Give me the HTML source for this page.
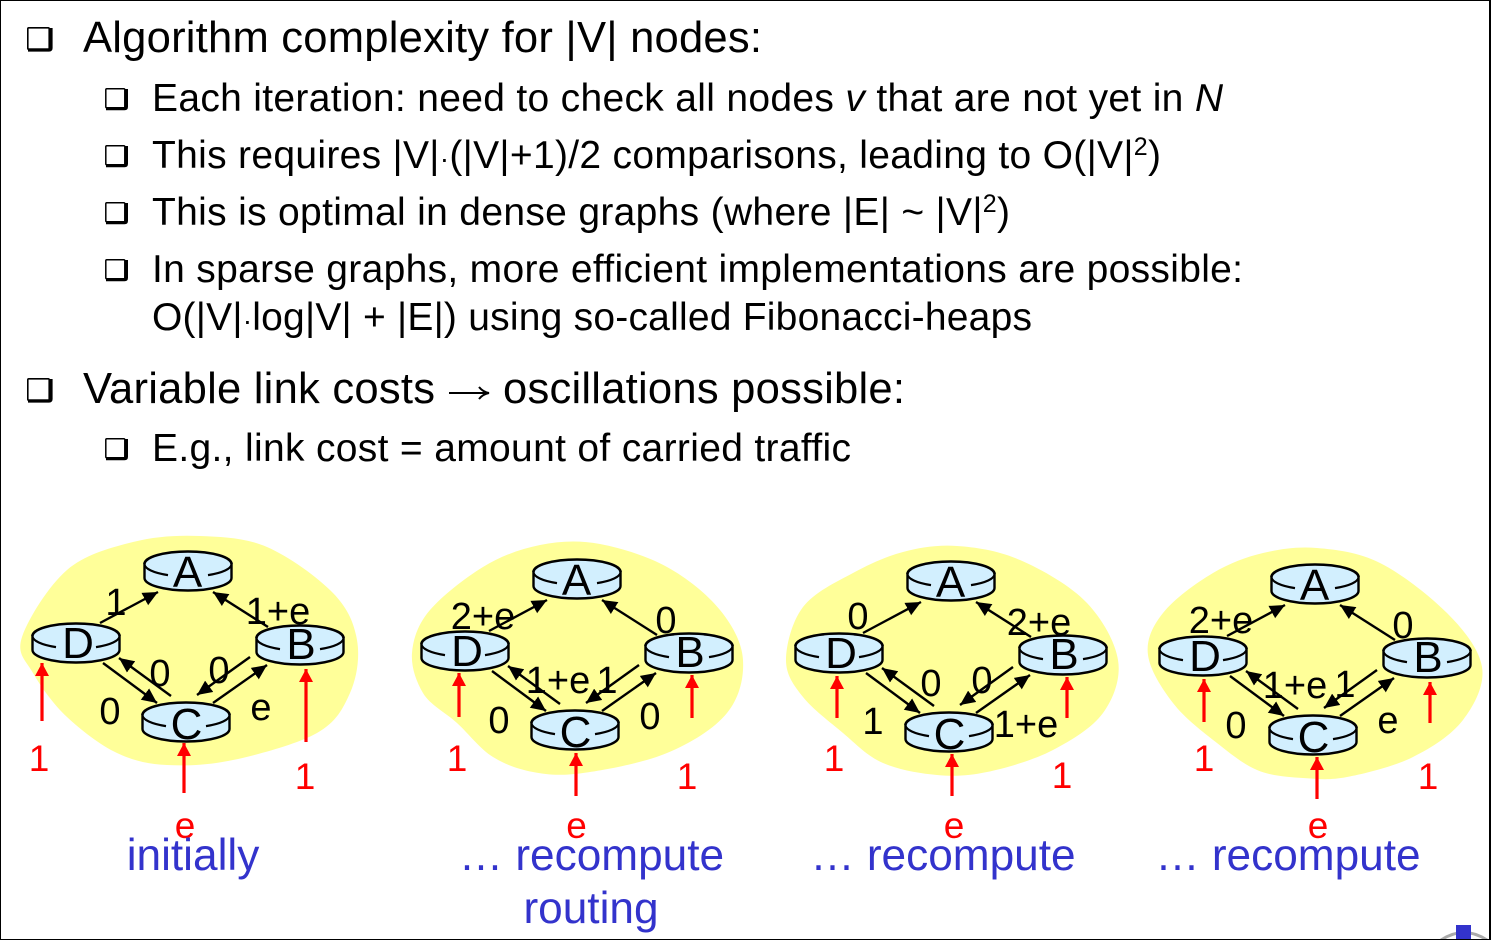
<!DOCTYPE html>
<html><head><meta charset="utf-8"><style>
html,body{margin:0;padding:0;background:#fff;width:1492px;height:941px;overflow:hidden}
svg{display:block;font-family:"Liberation Sans",Arial,sans-serif}
.h{font-size:43.6px;fill:#000}
.s{font-size:39px;fill:#000}
.n{font-size:44px;fill:#000;text-anchor:middle}
.l{font-size:38px;fill:#000;text-anchor:middle}
.r{font-size:37px;fill:#f00;text-anchor:middle}
.b{font-size:44.2px;fill:#3333cc;text-anchor:middle}
</style></head><body>
<svg width="1492" height="941" viewBox="0 0 1492 941" xmlns="http://www.w3.org/2000/svg">
<defs>
<marker id="k" markerUnits="userSpaceOnUse" markerWidth="18" markerHeight="16" refX="15" refY="7" orient="auto"><path d="M0 0L15 7L0 14Z" fill="#000"/></marker>
<marker id="rh" markerUnits="userSpaceOnUse" markerWidth="16" markerHeight="16" refX="13" refY="7" orient="auto"><path d="M0 0L13 7L0 14Z" fill="#f00"/></marker>
<g id="rt">
<path d="M-43.5 0V14A43.5 12.5 0 0 0 43.5 14V0Z" fill="#d2effe" stroke="#000" stroke-width="2.4"/>
<ellipse cx="0" cy="0" rx="43.5" ry="12.5" fill="#d2effe"/>
<path d="M-43.5 0A43.5 12.5 0 0 1 43.5 0" fill="none" stroke="#000" stroke-width="2.6"/>
<path d="M-43.5 0A43.5 12.5 0 0 0 -20 11.1M43.5 0A43.5 12.5 0 0 1 20 11.1" fill="none" stroke="#000" stroke-width="2.2"/>
</g>
<g id="net">
<g stroke="#000" stroke-width="2.4" fill="none">
<line x1="100" y1="623" x2="158" y2="592" marker-end="url(#k)"/>
<line x1="268" y1="627" x2="213" y2="592" marker-end="url(#k)"/>
<line x1="103" y1="663" x2="157" y2="703" marker-end="url(#k)"/>
<line x1="171" y1="696" x2="119" y2="658" marker-end="url(#k)"/>
<line x1="250" y1="657" x2="197" y2="695" marker-end="url(#k)"/>
<line x1="213" y1="703" x2="267" y2="665" marker-end="url(#k)"/>
</g>
<use href="#rt" x="188" y="564"/>
<use href="#rt" x="76" y="636"/>
<use href="#rt" x="300" y="638"/>
<use href="#rt" x="186" y="715"/>
</g>
<g id="bb"><rect x="0.8" y="0.8" width="21.4" height="21.4" rx="1" fill="#fff" stroke="#000" stroke-width="1.6"/><path d="M1 23H22Q24 23 24 21V1" fill="none" stroke="#000" stroke-width="3.2"/></g>
<g id="bs"><rect x="0.8" y="0.8" width="19" height="19" rx="1" fill="#fff" stroke="#000" stroke-width="1.5"/><path d="M1 20.8H19.5Q21.5 20.8 21.5 18.8V1" fill="none" stroke="#000" stroke-width="3"/></g>
</defs>

<!-- bullets -->
<use href="#bb" x="27" y="27"/>
<use href="#bb" x="27" y="378"/>
<use href="#bs" x="105" y="88"/>
<use href="#bs" x="105" y="145"/>
<use href="#bs" x="105" y="202"/>
<use href="#bs" x="105" y="259"/>
<use href="#bs" x="105" y="438"/>

<!-- text -->
<text class="h" x="83" y="52" textLength="679">Algorithm complexity for |V| nodes:</text>
<text class="s" x="152" y="111" textLength="1071">Each iteration: need to check all nodes <tspan font-style="italic">v</tspan> that are not yet in <tspan font-style="italic">N</tspan></text>
<text class="s" x="152" y="168" textLength="1009">This requires |V|<tspan font-size="28">·</tspan>(|V|+1)/2 comparisons, leading to O(|V|<tspan font-size="25" dy="-13">2</tspan><tspan dy="13">)</tspan></text>
<text class="s" x="152" y="225" textLength="858">This is optimal in dense graphs (where |E| ~ |V|<tspan font-size="25" dy="-13">2</tspan><tspan dy="13">)</tspan></text>
<text class="s" x="152" y="282" textLength="1091">In sparse graphs, more efficient implementations are possible:</text>
<text class="s" x="152" y="330" textLength="880">O(|V|<tspan font-size="28">·</tspan>log|V| + |E|) using so-called Fibonacci-heaps</text>
<text class="h" x="83" y="403" textLength="352">Variable link costs</text>
<path d="M449 393H488M479 387Q483 392 489 393Q483 394 479 399" fill="none" stroke="#000" stroke-width="2"/>
<text class="h" x="503" y="403" textLength="402">oscillations possible:</text>
<text class="s" x="152" y="461" textLength="699">E.g., link cost = amount of carried traffic</text>

<!-- blobs -->
<g fill="#ffff99">
<path d="M22 637C27.7 619.8 48.5 585.8 67 570S111 547.7 133 542S178 535 200 536S245 537.5 267 547S318 577.5 333 593S354 623 357 640S357 677.5 350 693S336.5 722 317 733S258 754.7 233 760S186 766 167 765S134 761 117 753S81 730 67 717S40.5 686 33 673S16.3 654.2 22 637Z"/>
<path d="M412 653C413 639 418 624 430 610S465 578 483 567S520 549 540 545S579 540 600 544S647 556 667 567S707 594 720 610S742 643 743 660S740 697 727 713S691 743 667 753S605 770 583 773S548 775 533 772S506 765 493 757S469 734 457 723S430 705 423 693S411 667 412 653Z"/>
<path d="M786 660C786 645 792 621.5 803 607S836 582 853 573S886 556.5 903 552S937.5 544.7 957 546S998 550.5 1020 560S1071 586 1087 603S1115 642 1118 660S1114 698 1103 713S1072 740 1053 750S1006 768 987 772S954 776.5 937 775S899 770 883 763S856 744 843 733S812.5 709 803 697S786 675 786 660Z"/>
<path d="M1148 655C1146 640 1152 627 1163 613S1196 583 1213 573S1246 557 1263 553S1297.5 546.3 1317 548S1358 552 1380 563S1430 596 1447 613S1479 649 1482 667S1474.5 705 1463 720S1432 747.5 1413 757S1365 773.5 1347 777S1318 779 1303 778S1271 776 1257 770S1231 754 1217 743S1184.5 718 1173 703S1150 670 1148 655Z"/>
</g>

<!-- diagram 1 -->
<use href="#net"/>
<g><text class="n" x="187.5" y="587">A</text><text class="n" x="78" y="658">D</text><text class="n" x="301" y="659">B</text><text class="n" x="186.5" y="739">C</text></g>
<text class="l" x="116" y="615">1</text><text class="l" x="278" y="624">1+e</text><text class="l" x="160" y="686">0</text><text class="l" x="219" y="683">0</text><text class="l" x="110" y="724">0</text><text class="l" x="261" y="720">e</text>
<g stroke="#f00" stroke-width="3.2">
<line x1="42" y1="721" x2="42" y2="663" marker-end="url(#rh)"/>
<line x1="306" y1="742" x2="306" y2="669" marker-end="url(#rh)"/>
<line x1="184" y1="793" x2="184" y2="743" marker-end="url(#rh)"/>
</g>
<text class="r" x="39" y="771">1</text><text class="r" x="305" y="789">1</text>
<text class="r" x="185" y="838">e</text>
<text class="b" x="193" y="870">initially</text>

<!-- diagram 2 -->
<use href="#net" x="389" y="8"/>
<g transform="translate(389,8)"><text class="n" x="187.5" y="587">A</text><text class="n" x="78" y="658">D</text><text class="n" x="301" y="659">B</text><text class="n" x="186.5" y="739">C</text></g>
<text class="l" x="483" y="629">2+e</text><text class="l" x="666" y="633">0</text><text class="l" x="558" y="693">1+e</text><text class="l" x="607" y="693">1</text><text class="l" x="499" y="733">0</text><text class="l" x="650" y="729">0</text>
<g stroke="#f00" stroke-width="3.2">
<line x1="459" y1="717" x2="459" y2="673" marker-end="url(#rh)"/>
<line x1="692" y1="718" x2="692" y2="675" marker-end="url(#rh)"/>
<line x1="576" y1="796" x2="576" y2="753" marker-end="url(#rh)"/>
</g>
<text class="r" x="457" y="771">1</text><text class="r" x="687" y="789">1</text>
<text class="r" x="576.5" y="838">e</text>
<text class="b" x="591.5" y="870">… recompute</text>
<text class="b" x="591" y="923">routing</text>

<!-- diagram 3 -->
<use href="#net" x="763" y="10"/>
<g transform="translate(763,10)"><text class="n" x="187.5" y="587">A</text><text class="n" x="78" y="658">D</text><text class="n" x="301" y="659">B</text><text class="n" x="186.5" y="739">C</text></g>
<text class="l" x="858" y="629">0</text><text class="l" x="1039" y="635">2+e</text><text class="l" x="931" y="696">0</text><text class="l" x="982" y="693">0</text><text class="l" x="873" y="734">1</text><text class="l" x="1026" y="737">1+e</text>
<g stroke="#f00" stroke-width="3.2">
<line x1="837" y1="718" x2="837" y2="676" marker-end="url(#rh)"/>
<line x1="1067" y1="718" x2="1067" y2="677" marker-end="url(#rh)"/>
<line x1="952" y1="796" x2="952" y2="754" marker-end="url(#rh)"/>
</g>
<text class="r" x="834" y="771">1</text><text class="r" x="1062" y="788">1</text>
<text class="r" x="954" y="838">e</text>
<text class="b" x="943" y="870">… recompute</text>

<!-- diagram 4 -->
<use href="#net" x="1127" y="13"/>
<g transform="translate(1127,13)"><text class="n" x="187.5" y="587">A</text><text class="n" x="78" y="658">D</text><text class="n" x="301" y="659">B</text><text class="n" x="186.5" y="739">C</text></g>
<text class="l" x="1221" y="633">2+e</text><text class="l" x="1403" y="638">0</text><text class="l" x="1295" y="698">1+e</text><text class="l" x="1345" y="697">1</text><text class="l" x="1236" y="738">0</text><text class="l" x="1388" y="733">e</text>
<g stroke="#f00" stroke-width="3.2">
<line x1="1204" y1="722" x2="1204" y2="679" marker-end="url(#rh)"/>
<line x1="1430" y1="723" x2="1430" y2="682" marker-end="url(#rh)"/>
<line x1="1317" y1="799" x2="1317" y2="757" marker-end="url(#rh)"/>
</g>
<text class="r" x="1204" y="771">1</text><text class="r" x="1428" y="789">1</text>
<text class="r" x="1318" y="838">e</text>
<text class="b" x="1288" y="870">… recompute</text>

<!-- corner logo -->
<path d="M1441 940Q1464 925 1487 940" fill="none" stroke="#aaa" stroke-width="3"/>
<rect x="1456" y="925" width="15" height="15" fill="#3333cc"/>

<!-- frame -->
<rect x="0" y="0" width="1490" height="940" fill="none" stroke="#000" stroke-width="2"/>
<rect x="0" y="940" width="1492" height="1" fill="#fff"/>
</svg>
</body></html>
